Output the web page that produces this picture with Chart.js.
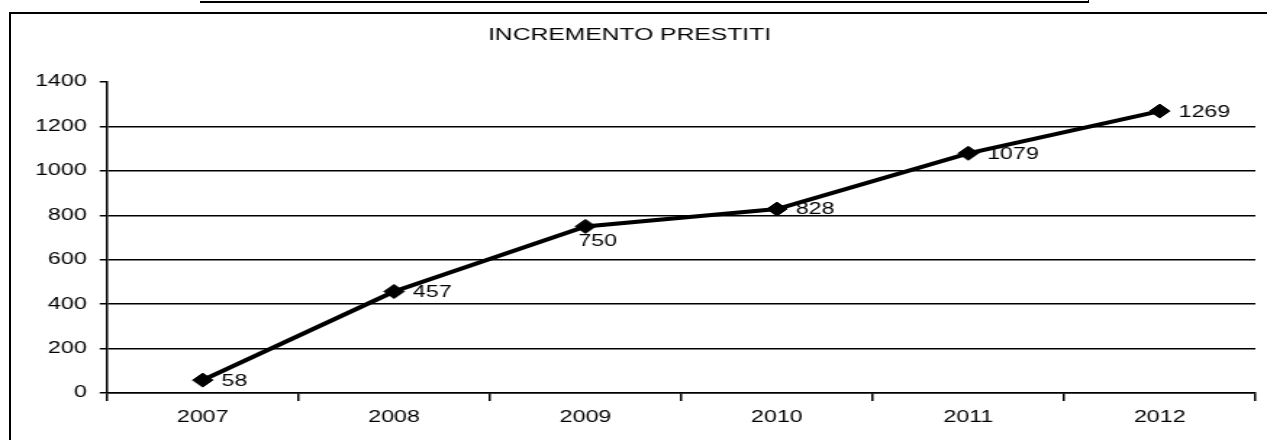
<!DOCTYPE html>
<html>
<head>
<meta charset="utf-8">
<title>Incremento prestiti</title>
<script src="https://cdn.jsdelivr.net/npm/chart.js@4.4.1/dist/chart.umd.min.js"></script>
<style>
  html, body { margin: 0; padding: 0; background: #fff; overflow: hidden; }
  #contenitore { position: relative; width: 1267px; height: 440px; }
  #grafico { position: absolute; left: 0; top: 0; }
  /* cornice del riquadro (foglio scansionato) */
  #cornice { position: absolute; left: 9px; top: 12px; right: -10px; bottom: -10px;
             border-left: 2px solid #000; border-top: 2px solid #000; }
  #bordoSopra { position: absolute; left: 200px; top: 0; width: 888px; height: 1px;
                border-bottom: 2px solid #000; border-right: 1px solid #000; }
</style>
</head>
<body>
<div id="contenitore">
  <!-- il canvas è più stretto e viene allargato in orizzontale come nello scan -->
  <canvas id="grafico" width="874" height="440" style="width:1267px;height:440px"></canvas>
  <div id="cornice"></div>
  <div id="bordoSopra"></div>
</div>
<script>
// Dati del grafico
const anni = ["2007", "2008", "2009", "2010", "2011", "2012"];
const prestiti = [58, 457, 750, 828, 1079, 1269];
const titolo = "INCREMENTO PRESTITI";

const FONT = '"Liberation Sans", Arial, sans-serif';

// Plugin per scrivere il valore accanto a ogni punto
const etichette = {
  id: "etichette",
  afterDatasetsDraw(chart) {
    const ctx = chart.ctx;
    const meta = chart.getDatasetMeta(0);
    ctx.save();
    ctx.font = "16px " + FONT;
    ctx.fillStyle = "#000";
    ctx.textAlign = "left";
    ctx.textBaseline = "middle";
    meta.data.forEach((punto, i) => {
      const valore = chart.data.datasets[0].data[i];
      if (i === 2) {
        // il 750 sta sotto il punto
        ctx.fillText(String(valore), punto.x - 5, punto.y + 15);
      } else {
        ctx.fillText(String(valore), punto.x + 13, punto.y + 1);
      }
    });
    ctx.restore();
  },
};

const ctx = document.getElementById("grafico").getContext("2d");
const grafico = new Chart(ctx, {
  type: "line",
  data: {
    labels: anni,
    datasets: [
      {
        label: "Prestiti",
        data: prestiti,
        borderColor: "#000",
        backgroundColor: "#000",
        borderWidth: 4,
        pointStyle: "rectRot",
        pointRadius: 7,
        pointBorderWidth: 1,
        pointBackgroundColor: "#000",
        pointBorderColor: "#000",
        tension: 0,
        fill: false,
      },
    ],
  },
  options: {
    responsive: false,
    devicePixelRatio: 1,
    animation: false,
    layout: { padding: { left: 0, right: 5.5, top: 0, bottom: 0 } },
    scales: {
      x: {
        offset: true,
        grid: {
          offset: true,
          drawOnChartArea: false,
          drawTicks: true,
          tickLength: 8,
          tickColor: "#000",
          lineWidth: 1.5,
        },
        border: { display: true, color: "#000", width: 1.5 },
        ticks: {
          color: "#000",
          padding: 7,
          font: { family: FONT, size: 16 },
          maxRotation: 0,
        },
        afterFit: (scale) => {
          scale.height = 47;
        },
      },
      y: {
        min: 0,
        max: 1400,
        ticks: {
          stepSize: 200,
          color: "#000",
          padding: 9,
          font: { family: FONT, size: 16 },
          callback: (v) => String(v), // senza separatore delle migliaia
        },
        grid: {
          color: (c) => (c.tick && c.tick.value === 1400 ? "rgba(0,0,0,0)" : "#000"),
          tickColor: "#000",
          tickLength: 5,
          lineWidth: 1.5,
        },
        border: { display: true, color: "#000", width: 1.5 },
        afterFit: (scale) => {
          scale.width = 73.8;
        },
      },
    },
    plugins: {
      legend: { display: false },
      tooltip: { enabled: false },
      title: {
        display: true,
        text: titolo,
        color: "#000",
        font: { family: FONT, size: 17, weight: "normal" },
        padding: { top: 25, bottom: 36.6 },
      },
    },
  },
  plugins: [etichette],
});
</script>
</body>
</html>
